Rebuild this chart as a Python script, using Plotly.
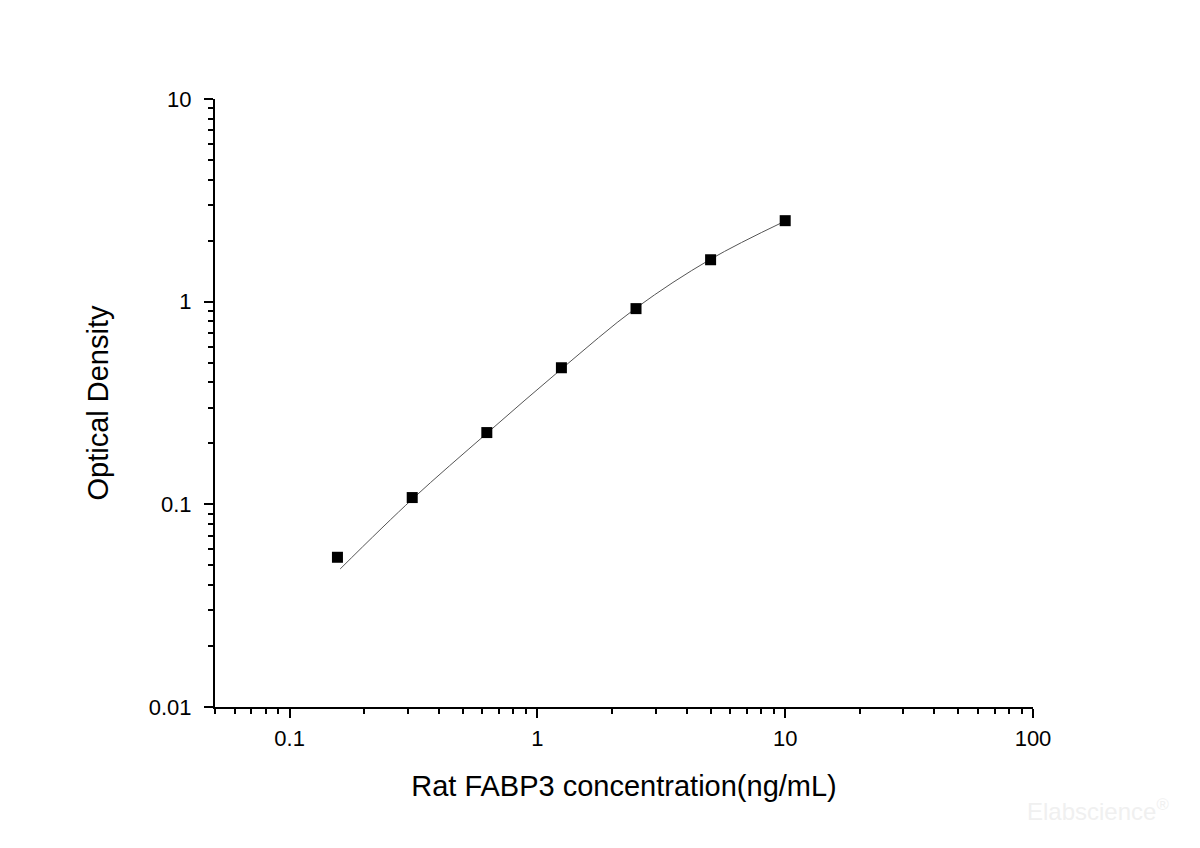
import plotly.graph_objects as go

# standard points (concentration vs OD)
conc = [0.156, 0.3125, 0.625, 1.25, 2.5, 5, 10]
od = [0.0548, 0.108, 0.226, 0.472, 0.924, 1.61, 2.51]

# fitted curve
curve_x = [0.16, 0.3125, 0.625, 1.25, 2.5, 5, 10]
curve_y = [0.048, 0.106, 0.224, 0.465, 0.93, 1.62, 2.5]

x_title = "Rat FABP3 concentration(ng/mL)"
y_title = "Optical Density"

fig = go.Figure()
fig.add_trace(go.Scatter(x=curve_x, y=curve_y, mode="lines",
                         line=dict(color="#555555", width=1, shape="spline"),
                         hoverinfo="skip"))
fig.add_trace(go.Scatter(x=conc, y=od, mode="markers",
                         marker=dict(symbol="square", size=11, color="black")))

axis_font = dict(family="Liberation Sans, Arial", size=22, color="black")
title_font = dict(family="Liberation Sans, Arial", size=29, color="black")
fig.update_xaxes(type="log", range=[-1.30103, 2], dtick=1,
                 showline=True, linewidth=2, linecolor="black",
                 ticks="outside", ticklen=9, tickwidth=2, tickcolor="black",
                 minor=dict(ticks="outside", ticklen=5, tickwidth=2, tickcolor="black", showgrid=False),
                 showgrid=False, zeroline=False, tickfont=axis_font, ticklabelstandoff=2,
                 title=dict(text=x_title, font=title_font, standoff=25))
fig.update_yaxes(type="log", range=[-2, 1], dtick=1,
                 showline=True, linewidth=2, linecolor="black",
                 ticks="outside", ticklen=9, tickwidth=2, tickcolor="black",
                 minor=dict(ticks="outside", ticklen=5, tickwidth=2, tickcolor="black", showgrid=False),
                 showgrid=False, zeroline=False, tickfont=axis_font, ticklabelstandoff=8,
                 title=dict(text=y_title, font=title_font, standoff=32))

fig.add_annotation(text="Elabscience<sup>®</sup>", xref="paper", yref="paper",
                   x=1.08, y=-0.169, xanchor="center", yanchor="middle", showarrow=False,
                   font=dict(family="Liberation Sans, Arial", size=24, color="#f0f0f0"))

# page body has an 8px margin, so the margins are shifted by it
fig.update_layout(width=1200, height=848, showlegend=False,
                  plot_bgcolor="white", paper_bgcolor="white",
                  margin=dict(l=207, r=175, t=91, b=149))

fig.write_html("out.html")
